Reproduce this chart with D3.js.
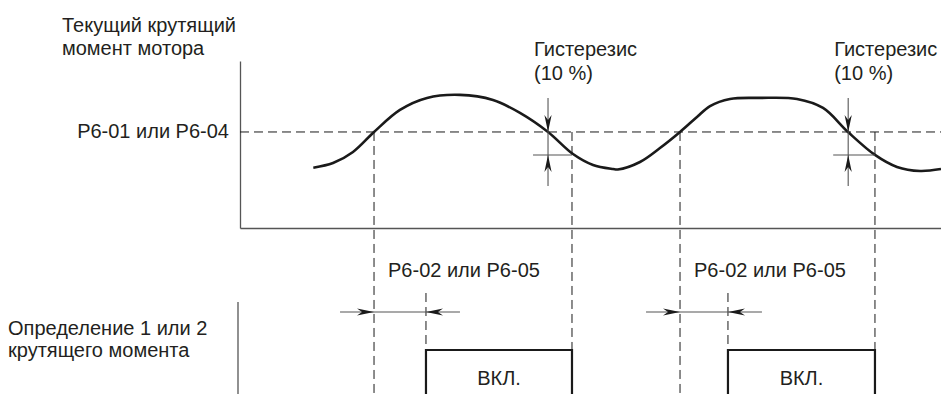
<!DOCTYPE html>
<html><head><meta charset="utf-8">
<script src="https://cdn.jsdelivr.net/npm/d3@7"></script>
<style>
body{margin:0;background:#fff}
text{font-family:"Liberation Sans",Arial,sans-serif;font-size:20px;fill:#231f20}
</style>
</head><body><svg id="c" width="941" height="394"></svg>
<script>
// ---- data (time in % of window, torque in arbitrary units) ----
const curveTime   = [10.46, 13.27, 16.12, 19.12, 22.82, 26.68, 31.38, 36.09, 39.94, 43.94, 47.50, 50.36, 53.21, 53.9, 57.06, 59.91, 62.77, 65.19, 67.05, 69.90, 74.18, 79.46, 83.17, 86.73, 90.58, 93.72, 97.0, 100];
const curveTorque = [40.2, 43.3, 50.7, 64, 78.7, 86.7, 88.7, 85.3, 76.7, 64, 49.3, 42, 39.3, 39, 44, 53.3, 64, 74, 81.3, 86, 86.7, 86, 80, 64, 48.7, 40.7, 38, 39.3];
const threshold = 64;
const hysteresisLevel = 48.7;
const riseTimes = [19.12, 62.77];
const delayEndTimes = [26.53, 69.61];
const fallTimes = [43.94, 86.76];
const offTimes = [47.36, 90.58];
const signalOn = 1, signalOff = 0;
const yAxisLabel = ["Текущий крутящий", "момент мотора"];
const thresholdLabel = "P6-01 или P6-04";
const hysteresisLabel = ["Гистерезис", "(10 %)"];
const delayLabel = "P6-02 или P6-05";
const outputLabel = ["Определение 1 или 2", "крутящего момента"];
const onLabel = "ВКЛ.";

const svg = d3.select("#c");
const x = d3.scaleLinear().domain([0, 100]).range([240, 941]);
const y = d3.scaleLinear().domain([0, 111.3]).range([228, 61]);
const ySig = d3.scaleLinear().domain([signalOff, signalOn]).range([440, 350]);

const ink = "#1a1a1a", grey = "#555";

// axes (no ticks)
svg.append("g").attr("transform", `translate(${x(0)},0)`)
  .call(d3.axisLeft(y).ticks(0).tickSizeOuter(0))
  .select(".domain").attr("stroke", grey).attr("stroke-width", 1.3);
svg.append("g").attr("transform", `translate(0,${y(0)})`)
  .call(d3.axisBottom(x).ticks(0).tickSizeOuter(0))
  .select(".domain").attr("stroke", grey).attr("stroke-width", 1.3);
// lower panel axis
svg.append("line").attr("x1", x(0) - 2).attr("x2", x(0) - 2).attr("y1", 302).attr("y2", 394)
  .attr("stroke", grey).attr("stroke-width", 1.3);

// threshold dashed line
svg.append("line").attr("x1", x(0)).attr("x2", x(100)).attr("y1", y(threshold)).attr("y2", y(threshold))
  .attr("stroke", ink).attr("stroke-width", 1).attr("stroke-dasharray", "9,5");

// vertical dashed lines at rise and off times
const vTimes = riseTimes.concat(offTimes);
svg.selectAll(".vd").data(vTimes).join("line")
  .attr("x1", d => x(d)).attr("x2", d => x(d)).attr("y1", y(threshold)).attr("y2", 394)
  .attr("stroke", ink).attr("stroke-width", 1).attr("stroke-dasharray", "9,5");
// delay end dashed
svg.selectAll(".dd").data(delayEndTimes).join("line")
  .attr("x1", d => x(d)).attr("x2", d => x(d)).attr("y1", 293).attr("y2", ySig(signalOn))
  .attr("stroke", ink).attr("stroke-width", 1).attr("stroke-dasharray", "9,5");

// torque curve
const pts = curveTime.map((t, i) => [t, curveTorque[i]]);
svg.append("path").datum(pts)
  .attr("d", d3.line().x(d => x(d[0])).y(d => y(d[1])).curve(d3.curveCatmullRom.alpha(0.5)))
  .attr("fill", "none").attr("stroke", ink).attr("stroke-width", 2.6);

// arrowhead helper (tip at px,py; angle in degrees, 0 = pointing right)
function arrow(px, py, ang) {
  const L = 17, w = 3.6, n = 5;
  svg.append("path")
    .attr("d", `M0,0 L${-L},${-w} L${-L + n},0 L${-L},${w} Z`)
    .attr("transform", `translate(${px},${py}) rotate(${ang})`)
    .attr("fill", ink);
}

// hysteresis markers
fallTimes.forEach((f, i) => {
  const xf = x(f), yt = y(threshold), yh = y(hysteresisLevel);
  svg.append("line").attr("x1", xf).attr("x2", xf).attr("y1", yt - 34).attr("y2", yh + 31)
    .attr("stroke", grey).attr("stroke-width", 1.1);
  svg.append("line").attr("x1", xf - 15).attr("x2", x(offTimes[i])).attr("y1", yh).attr("y2", yh)
    .attr("stroke", grey).attr("stroke-width", 1.1);
  arrow(xf, yt, 90);
  arrow(xf, yh, -90);
  svg.append("text").attr("x", xf - 14).attr("y", 56).text(hysteresisLabel[0]);
  svg.append("text").attr("x", xf - 14).attr("y", 80).text(hysteresisLabel[1]);
});

// delay markers + output pulses
riseTimes.forEach((r, i) => {
  const xr = x(r), xd = x(delayEndTimes[i]);
  svg.append("line").attr("x1", xr - 34).attr("x2", xd + 34).attr("y1", 312).attr("y2", 312)
    .attr("stroke", grey).attr("stroke-width", 1.1);
  arrow(xr, 312, 0);
  arrow(xd, 312, 180);
  svg.append("text").attr("x", xr + 14).attr("y", 277).text(delayLabel);
  const pulse = [[delayEndTimes[i], signalOff], [delayEndTimes[i], signalOn], [offTimes[i], signalOn], [offTimes[i], signalOff]];
  svg.append("path").datum(pulse)
    .attr("d", d3.line().x(d => x(d[0])).y(d => ySig(d[1])))
    .attr("fill", "none").attr("stroke", ink).attr("stroke-width", 2.2);
  svg.append("text").attr("x", (xd + x(offTimes[i])) / 2).attr("y", 385)
    .attr("text-anchor", "middle").text(onLabel);
});

// labels
svg.append("text").attr("x", 62).attr("y", 32).text(yAxisLabel[0]);
svg.append("text").attr("x", 62).attr("y", 55).text(yAxisLabel[1]);
svg.append("text").attr("x", 229).attr("y", 138).attr("text-anchor", "end").text(thresholdLabel);
svg.append("text").attr("x", 8).attr("y", 335).text(outputLabel[0]);
svg.append("text").attr("x", 8).attr("y", 357).text(outputLabel[1]);
</script>
</body></html>
